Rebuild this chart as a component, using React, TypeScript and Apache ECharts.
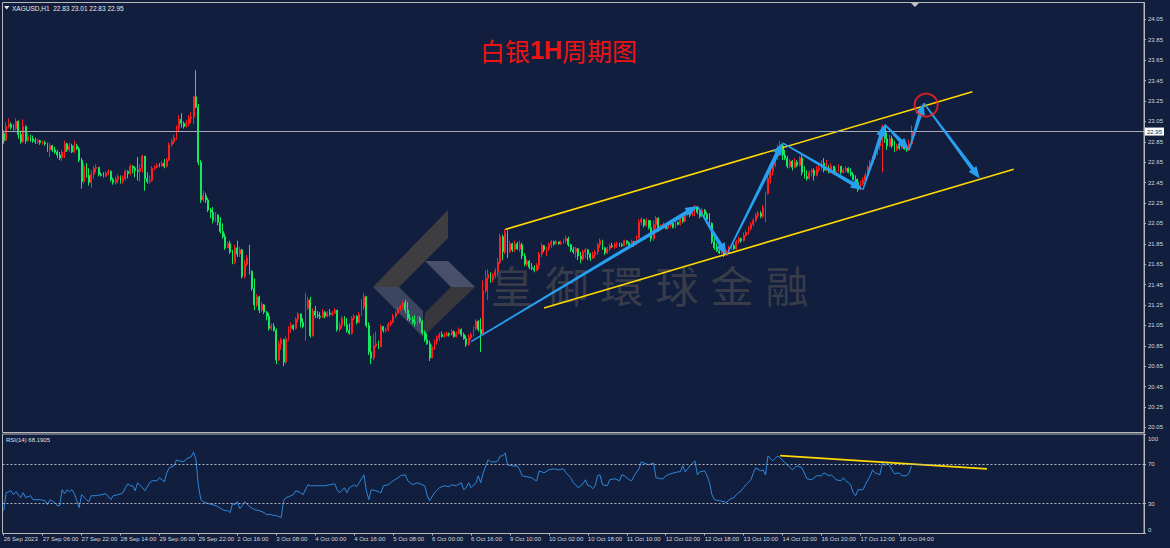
import React, { useEffect, useRef } from 'react';
import * as echarts from 'echarts';

const BG = '#111e3d';
const FONT = 'Liberation Sans';

const tickLabels = [
  '26 Sep 2023', '27 Sep 06:00', '27 Sep 22:00', '28 Sep 14:00', '29 Sep 06:00', '29 Sep 22:00',
  '2 Oct 16:00', '3 Oct 08:00', '4 Oct 00:00', '4 Oct 16:00', '5 Oct 08:00', '6 Oct 00:00',
  '6 Oct 16:00', '9 Oct 10:00', '10 Oct 02:00', '10 Oct 18:00', '11 Oct 10:00', '12 Oct 02:00',
  '12 Oct 18:00', '13 Oct 10:00', '14 Oct 02:00', '16 Oct 20:00', '17 Oct 12:00', '18 Oct 04:00',
];
const TICK_EVERY = 16;
const TOTAL_SLOTS = 469;

const priceTicks = [20.05, 20.25, 20.45, 20.65, 20.85, 21.05, 21.25, 21.45, 21.65, 21.85, 22.05,
  22.25, 22.45, 22.65, 22.85, 23.05, 23.25, 23.45, 23.65, 23.85, 24.05];
const rsiTicks = [0, 30, 70, 100];
const rsiLevels = [70, 30];
const currentPrice = 22.95;
const firstOpen = 22.93;

const closes = [
  22.86, 23.00, 23.02, 22.99, 22.98, 23.05, 22.92, 22.85, 23.00, 22.86,
  22.90, 22.88, 22.86, 22.85, 22.86, 22.84, 22.84, 22.83, 22.77, 22.81,
  22.77, 22.75, 22.72, 22.69, 22.75, 22.83, 22.77, 22.81, 22.75, 22.81,
  22.78, 22.67, 22.46, 22.61, 22.52, 22.45, 22.53, 22.59, 22.60, 22.53,
  22.52, 22.51, 22.54, 22.56, 22.48, 22.45, 22.48, 22.51, 22.46, 22.49,
  22.56, 22.54, 22.61, 22.59, 22.57, 22.56, 22.59, 22.71, 22.49, 22.46,
  22.47, 22.59, 22.60, 22.62, 22.61, 22.64, 22.61, 22.67, 22.82, 22.85,
  22.89, 22.98, 23.07, 23.03, 23.00, 23.03, 23.08, 23.09, 23.29, 23.19,
  22.65, 22.28, 22.32, 22.28, 22.18, 22.16, 22.08, 22.13, 22.06, 21.97,
  21.92, 21.81, 21.85, 21.77, 21.67, 21.81, 21.75, 21.79, 21.53, 21.65,
  21.71, 21.58, 21.41, 21.25, 21.33, 21.20, 21.25, 21.18, 21.14, 21.02,
  21.04, 21.00, 20.71, 20.87, 20.91, 20.69, 20.92, 21.02, 21.05, 21.02,
  21.11, 21.16, 21.08, 21.04, 21.22, 21.30, 20.95, 21.19, 21.15, 21.14,
  21.13, 21.18, 21.14, 21.17, 21.16, 21.17, 21.20, 21.01, 21.05, 21.12,
  21.06, 21.00, 20.97, 21.12, 21.14, 21.08, 21.16, 21.23, 21.33, 21.05,
  20.79, 20.73, 20.85, 20.87, 20.84, 21.04, 21.00, 21.01, 21.06, 21.08,
  21.14, 21.17, 21.21, 21.23, 21.27, 21.20, 21.12, 21.11, 21.08, 21.07,
  21.12, 21.09, 20.98, 20.91, 20.87, 20.73, 20.84, 20.89, 20.93, 20.96,
  20.94, 20.95, 20.97, 20.96, 20.99, 20.94, 20.97, 21.01, 20.96, 20.92,
  20.86, 20.93, 20.96, 21.02, 21.09, 21.01, 20.97, 21.39, 21.51, 21.55,
  21.50, 21.54, 21.58, 21.67, 21.92, 21.77, 21.96, 21.77, 21.85, 21.79,
  21.85, 21.80, 21.84, 21.73, 21.65, 21.68, 21.62, 21.61, 21.59, 21.64,
  21.75, 21.83, 21.79, 21.80, 21.84, 21.87, 21.85, 21.87, 21.85, 21.86,
  21.88, 21.90, 21.84, 21.79, 21.77, 21.80, 21.73, 21.70, 21.77, 21.79,
  21.75, 21.71, 21.74, 21.77, 21.84, 21.88, 21.81, 21.76, 21.80, 21.83,
  21.82, 21.84, 21.85, 21.84, 21.83, 21.88, 21.86, 21.84, 21.87, 21.84,
  21.91, 22.06, 22.09, 22.03, 22.08, 22.01, 21.90, 22.04, 22.10, 21.99,
  22.02, 22.04, 22.00, 22.03, 22.05, 22.01, 22.06, 22.04, 22.11, 22.07,
  22.14, 22.16, 22.13, 22.19, 22.21, 22.16, 22.12, 22.18, 22.14, 22.09,
  22.05, 21.87, 21.81, 21.78, 21.76, 21.80, 21.74, 21.76, 21.81, 21.83,
  21.80, 21.87, 21.90, 21.88, 21.93, 21.96, 22.00, 22.04, 22.08, 22.13,
  22.15, 22.12, 22.20, 22.34, 22.49, 22.56, 22.62, 22.71, 22.80, 22.81,
  22.72, 22.69, 22.61, 22.66, 22.60, 22.65, 22.62, 22.69, 22.55, 22.51,
  22.49, 22.55, 22.57, 22.52, 22.58, 22.59, 22.64, 22.57, 22.59, 22.55,
  22.61, 22.55, 22.56, 22.61, 22.55, 22.57, 22.59, 22.55, 22.53, 22.48,
  22.45, 22.38, 22.44, 22.47, 22.52, 22.60, 22.64, 22.69, 22.74, 22.81,
  22.91, 23.00, 22.88, 22.81, 22.88, 22.81, 22.77, 22.81, 22.79, 22.82,
  22.78, 22.77, 22.83, 22.95,
];

const highs = [
  22.96, 23.04, 23.08, 23.04, 23.02, 23.08, 23.06, 22.96, 23.07, 23.01,
  22.94, 22.92, 22.91, 22.89, 22.88, 22.87, 22.86, 22.86, 22.84, 22.84,
  22.82, 22.80, 22.77, 22.75, 22.77, 22.86, 22.84, 22.84, 22.83, 22.86,
  22.83, 22.80, 22.69, 22.64, 22.64, 22.59, 22.57, 22.61, 22.63, 22.58,
  22.55, 22.55, 22.56, 22.58, 22.57, 22.50, 22.51, 22.53, 22.52, 22.52,
  22.58, 22.57, 22.63, 22.62, 22.61, 22.70, 22.63, 22.72, 22.71, 22.55,
  22.52, 22.61, 22.62, 22.64, 22.64, 22.66, 22.68, 22.69, 22.84, 22.88,
  22.92, 23.01, 23.11, 23.13, 23.05, 23.06, 23.11, 23.14, 23.30, 23.55,
  23.22, 22.67, 22.37, 22.35, 22.30, 22.20, 22.21, 22.16, 22.14, 22.11,
  22.05, 21.95, 21.87, 21.88, 21.79, 21.84, 21.88, 21.82, 21.80, 21.69,
  21.74, 21.84, 21.59, 21.51, 21.36, 21.34, 21.28, 21.26, 21.19, 21.17,
  21.07, 21.07, 21.02, 20.90, 20.93, 20.92, 20.94, 21.04, 21.08, 21.06,
  21.13, 21.18, 21.17, 21.12, 21.37, 21.33, 21.33, 21.22, 21.24, 21.19,
  21.18, 21.21, 21.19, 21.19, 21.21, 21.19, 21.22, 21.20, 21.08, 21.14,
  21.14, 21.12, 21.07, 21.14, 21.16, 21.15, 21.18, 21.31, 21.37, 21.34,
  21.08, 20.95, 20.97, 20.99, 20.90, 21.06, 21.04, 21.03, 21.08, 21.10,
  21.16, 21.19, 21.23, 21.25, 21.29, 21.30, 21.28, 21.16, 21.14, 21.15,
  21.14, 21.14, 21.10, 21.00, 20.97, 20.90, 20.86, 20.91, 20.95, 20.98,
  20.99, 20.98, 20.99, 20.98, 21.01, 21.00, 20.99, 21.03, 21.02, 20.98,
  20.95, 20.96, 20.98, 21.04, 21.11, 21.10, 21.12, 21.49, 21.59, 21.60,
  21.57, 21.56, 21.61, 21.71, 21.95, 21.94, 21.99, 21.98, 21.88, 21.86,
  21.88, 21.87, 21.88, 21.86, 21.76, 21.70, 21.69, 21.66, 21.64, 21.66,
  21.77, 21.86, 21.84, 21.82, 21.86, 21.89, 21.88, 21.89, 21.87, 21.88,
  21.90, 21.93, 21.92, 21.85, 21.82, 21.82, 21.81, 21.77, 21.79, 21.81,
  21.80, 21.76, 21.77, 21.79, 21.86, 21.90, 21.89, 21.82, 21.82, 21.85,
  21.86, 21.86, 21.87, 21.86, 21.86, 21.89, 21.88, 21.87, 21.89, 21.88,
  21.93, 22.09, 22.11, 22.09, 22.10, 22.08, 22.08, 22.08, 22.12, 22.11,
  22.04, 22.06, 22.05, 22.05, 22.07, 22.06, 22.08, 22.07, 22.13, 22.13,
  22.16, 22.17, 22.17, 22.21, 22.23, 22.21, 22.18, 22.20, 22.19, 22.16,
  22.15, 22.06, 21.93, 21.86, 21.84, 21.82, 21.81, 21.79, 21.83, 21.85,
  21.85, 21.89, 21.92, 21.91, 21.96, 21.98, 22.02, 22.06, 22.10, 22.15,
  22.17, 22.17, 22.23, 22.36, 22.51, 22.58, 22.67, 22.73, 22.82, 22.86,
  22.83, 22.77, 22.71, 22.68, 22.67, 22.69, 22.67, 22.71, 22.72, 22.61,
  22.57, 22.57, 22.59, 22.59, 22.61, 22.62, 22.67, 22.69, 22.67, 22.62,
  22.64, 22.61, 22.59, 22.63, 22.60, 22.59, 22.61, 22.60, 22.59, 22.55,
  22.52, 22.49, 22.47, 22.50, 22.55, 22.62, 22.67, 22.71, 22.76, 22.83,
  22.93, 23.02, 23.01, 22.94, 22.92, 22.91, 22.86, 22.83, 22.83, 22.84,
  22.82, 22.80, 22.87, 23.01,
];

const lows = [
  22.83, 22.86, 22.98, 22.97, 22.96, 22.96, 22.88, 22.83, 22.84, 22.83,
  22.85, 22.85, 22.84, 22.83, 22.83, 22.82, 22.82, 22.81, 22.75, 22.70,
  22.75, 22.73, 22.69, 22.67, 22.66, 22.69, 22.75, 22.75, 22.74, 22.74,
  22.77, 22.65, 22.39, 22.44, 22.50, 22.42, 22.40, 22.49, 22.55, 22.51,
  22.51, 22.50, 22.51, 22.52, 22.46, 22.43, 22.43, 22.44, 22.44, 22.44,
  22.47, 22.49, 22.52, 22.54, 22.50, 22.47, 22.46, 22.55, 22.37, 22.44,
  22.44, 22.46, 22.57, 22.59, 22.60, 22.61, 22.59, 22.60, 22.66, 22.80,
  22.83, 22.87, 22.95, 22.99, 22.98, 22.99, 23.00, 23.03, 23.02, 23.18,
  22.62, 22.25, 22.26, 22.25, 22.16, 22.10, 22.05, 22.06, 22.03, 21.95,
  21.90, 21.79, 21.82, 21.75, 21.65, 21.65, 21.72, 21.72, 21.51, 21.51,
  21.63, 21.55, 21.39, 21.20, 21.23, 21.17, 21.18, 21.16, 21.10, 21.00,
  21.00, 20.99, 20.67, 20.70, 20.81, 20.65, 20.67, 20.90, 20.98, 21.00,
  21.01, 21.08, 21.03, 21.02, 20.90, 21.20, 20.93, 20.94, 21.12, 21.12,
  21.11, 21.12, 21.12, 21.13, 21.14, 21.14, 21.16, 20.99, 20.99, 21.02,
  21.04, 20.98, 20.96, 20.96, 21.10, 21.06, 21.07, 21.14, 21.20, 21.03,
  20.76, 20.67, 20.71, 20.83, 20.82, 20.84, 20.98, 20.98, 20.99, 21.04,
  21.07, 21.12, 21.16, 21.19, 21.21, 21.17, 21.10, 21.09, 21.06, 21.04,
  21.05, 21.07, 20.96, 20.89, 20.86, 20.70, 20.73, 20.81, 20.86, 20.90,
  20.93, 20.93, 20.94, 20.94, 20.95, 20.93, 20.93, 20.96, 20.94, 20.91,
  20.84, 20.85, 20.91, 20.94, 21.00, 20.99, 20.79, 20.96, 21.37, 21.30,
  21.47, 21.47, 21.51, 21.53, 21.65, 21.69, 21.75, 21.71, 21.76, 21.77,
  21.77, 21.79, 21.77, 21.70, 21.63, 21.63, 21.60, 21.59, 21.57, 21.58,
  21.60, 21.72, 21.77, 21.73, 21.78, 21.81, 21.83, 21.84, 21.84, 21.84,
  21.85, 21.86, 21.82, 21.77, 21.75, 21.71, 21.69, 21.66, 21.68, 21.71,
  21.69, 21.68, 21.70, 21.71, 21.74, 21.81, 21.79, 21.74, 21.75, 21.78,
  21.81, 21.80, 21.81, 21.82, 21.82, 21.83, 21.84, 21.82, 21.83, 21.82,
  21.84, 21.90, 22.03, 22.01, 22.02, 21.99, 21.87, 21.88, 22.00, 21.97,
  21.98, 22.00, 21.99, 21.99, 22.01, 22.00, 22.00, 22.03, 22.03, 22.05,
  22.06, 22.12, 22.11, 22.12, 22.12, 22.14, 22.10, 22.11, 22.12, 22.07,
  22.03, 21.85, 21.79, 21.77, 21.75, 21.75, 21.72, 21.73, 21.75, 21.79,
  21.79, 21.79, 21.85, 21.86, 21.87, 21.92, 21.94, 21.98, 22.02, 22.06,
  22.10, 22.10, 22.10, 22.06, 22.33, 22.44, 22.52, 22.60, 22.67, 22.71,
  22.67, 22.67, 22.59, 22.59, 22.57, 22.59, 22.60, 22.61, 22.52, 22.49,
  22.47, 22.48, 22.51, 22.47, 22.51, 22.55, 22.57, 22.55, 22.56, 22.54,
  22.54, 22.53, 22.54, 22.55, 22.53, 22.54, 22.55, 22.54, 22.51, 22.47,
  22.43, 22.36, 22.39, 22.42, 22.46, 22.52, 22.57, 22.62, 22.67, 22.72,
  22.77, 22.55, 22.84, 22.77, 22.80, 22.79, 22.75, 22.76, 22.77, 22.78,
  22.77, 22.75, 22.76, 22.83,
];

// RSI(14): [bar index, value]
const rsiPoints = [
  [0, 23], [1, 41], [3, 43], [4, 39], [5, 42], [7, 36], [8, 41], [9, 36], [11, 38], [12, 34],
  [15, 34], [17, 33], [18, 29], [19, 34], [21, 31], [22, 28], [23, 28], [24, 44], [25, 40], [26, 44],
  [27, 42], [28, 44], [29, 40], [30, 33], [31, 26], [32, 39], [34, 34], [35, 32], [36, 38], [38, 38],
  [40, 39], [42, 40], [44, 34], [45, 38], [47, 39], [49, 41], [50, 46], [51, 50], [52, 48], [53, 48],
  [54, 43], [55, 51], [57, 46], [58, 43], [60, 51], [61, 53], [63, 53], [64, 56], [66, 52], [67, 61],
  [68, 66], [70, 68], [71, 74], [72, 73], [74, 72], [75, 75], [77, 77], [78, 82], [79, 74], [80, 48],
  [81, 34], [82, 32], [84, 30], [86, 29], [88, 27], [90, 24], [91, 23], [92, 23], [93, 21], [94, 30],
  [95, 29], [96, 32], [97, 25], [98, 28], [99, 32], [101, 27], [103, 24], [105, 23], [107, 21], [108, 19],
  [110, 19], [111, 18], [112, 18], [114, 16], [115, 33], [116, 36], [118, 38], [119, 39], [120, 43], [122, 41],
  [123, 39], [125, 49], [126, 48], [128, 48], [130, 48], [132, 48], [134, 49], [136, 50], [137, 44], [138, 41],
  [140, 46], [141, 41], [142, 46], [144, 49], [145, 47], [146, 51], [148, 59], [149, 43], [150, 34], [151, 44],
  [153, 43], [155, 41], [156, 48], [158, 49], [160, 53], [162, 56], [163, 58], [165, 59], [166, 53], [168, 49],
  [170, 51], [173, 48], [174, 38], [175, 33], [177, 41], [179, 46], [181, 48], [183, 47], [184, 49], [186, 48],
  [188, 51], [189, 44], [190, 46], [191, 51], [192, 46], [194, 51], [195, 58], [196, 51], [197, 61], [199, 74],
  [200, 72], [202, 72], [203, 73], [204, 78], [205, 78], [206, 81], [207, 69], [209, 68], [211, 68], [212, 64],
  [213, 58], [215, 57], [217, 56], [218, 54], [219, 53], [220, 63], [222, 61], [224, 64], [226, 65], [228, 64],
  [230, 65], [231, 61], [233, 56], [234, 51], [235, 49], [236, 46], [238, 50], [239, 54], [240, 48], [241, 48],
  [242, 45], [243, 48], [244, 58], [245, 59], [246, 49], [248, 48], [249, 54], [251, 55], [253, 53], [254, 59],
  [255, 58], [257, 54], [258, 53], [259, 58], [261, 65], [262, 72], [264, 70], [265, 69], [266, 70], [267, 71],
  [268, 56], [270, 55], [271, 55], [272, 58], [274, 60], [277, 62], [278, 62], [279, 68], [280, 62], [282, 68],
  [284, 73], [285, 59], [286, 62], [288, 63], [289, 58], [290, 51], [291, 39], [292, 34], [294, 33], [296, 32],
  [297, 31], [298, 34], [300, 36], [301, 39], [303, 43], [304, 46], [305, 49], [307, 54], [308, 61], [309, 66],
  [311, 63], [312, 64], [313, 59], [314, 78], [316, 73], [318, 78], [319, 76], [321, 71], [322, 69], [324, 64],
  [326, 68], [328, 66], [330, 55], [332, 54], [334, 58], [336, 58], [337, 61], [339, 58], [340, 59], [342, 54],
  [344, 53], [345, 56], [346, 53], [348, 49], [349, 41], [350, 38], [351, 44], [353, 44], [354, 49], [356, 58],
  [357, 64], [358, 61], [360, 59], [361, 71], [362, 68], [363, 71], [364, 68], [366, 60], [368, 61], [369, 58],
  [371, 58], [372, 61], [373, 68],
];

// drawn objects: [bar index, price]
const channelUpper = [[206, 21.99], [398, 23.34]];
const channelLower = [[222, 21.22], [415, 22.58]];
const arrowPath = [[192, 20.89], [285, 22.22], [297, 21.74], [320, 22.84], [353, 22.38],
  [362, 23.02], [372, 22.77], [378, 23.23], [401, 22.49]];
const circleMark = [379, 23.21];
const rsiTrend = [[319, 78.3], [404, 65]];

const headerText = 'XAGUSD,H1  22.83 23.01 22.83 22.95';
const rsiText = 'RSI(14) 68.1905';
const watermarkChars = ['皇', '御', '環', '球', '金', '融'];

export default function App() {
  const ref = useRef<HTMLDivElement>(null);

  useEffect(() => {
    const el = ref.current;
    if (!el) return;
    const chart = echarts.init(el, undefined, { renderer: 'svg', width: 1170, height: 548 });

    const categories = Array.from({ length: TOTAL_SLOTS }, (_, i) => String(i));
    const candles = closes.map((c, i) => {
      const o = i === 0 ? firstOpen : closes[i - 1];
      return [o, c, Math.min(lows[i], o, c), Math.max(highs[i], o, c)];
    });
    const segments = arrowPath.slice(1).map((p, i) => [arrowPath[i][0], arrowPath[i][1], p[0], p[1]]);
    const lastLabelIdx = (tickLabels.length - 1) * TICK_EVERY;
    const showTick = (idx: number) => idx % TICK_EVERY === 0 && idx <= lastLabelIdx;

    const labelColor = '#d8d8d8';
    const frame = '#b8b8b8';

    const graphics: any[] = [];
    const logoPolys = [
      { pts: [[373, 287], [448, 210], [448, 238], [399, 287]], fill: '#3e3e41' },
      { pts: [[425, 261], [448, 261], [475, 287], [451, 287]], fill: '#48506a' },
      { pts: [[373, 287], [399, 287], [423, 311], [423, 337]], fill: '#3d4660' },
      { pts: [[475, 287], [451, 287], [425, 313], [423, 337]], fill: '#38383c' },
    ];
    logoPolys.forEach((p) => {
      graphics.push({ type: 'polygon', z: 0, silent: true, shape: { points: p.pts }, style: { fill: p.fill } });
    });
    watermarkChars.forEach((ch, i) => {
      graphics.push({
        type: 'text', z: 0, silent: true, x: 512 + i * 55, y: 284,
        style: { text: ch, fill: '#383b49', font: '43px "Noto Sans CJK TC"', textAlign: 'center', textVerticalAlign: 'middle' },
      });
    });
    graphics.push({
      type: 'text', z: 20, x: 480, y: 50,
      style: {
        text: '{a|白银}{b|1H}{a|周期图}',
        textVerticalAlign: 'middle',
        rich: {
          a: { fontSize: 25, fontFamily: 'Noto Sans CJK SC', fill: '#ee1414', color: '#ee1414' },
          b: { fontSize: 25, fontFamily: 'Liberation Sans', fontWeight: 'bold', fill: '#ee1414', color: '#ee1414' },
        },
      },
    });
    graphics.push({ type: 'polygon', z: 20, shape: { points: [[4, 6], [9.5, 6], [6.75, 9.5]] }, style: { fill: '#e8e8e8' } });
    graphics.push({
      type: 'text', z: 20, x: 12, y: 8,
      style: { text: headerText, fill: '#e8e8e8', font: `6.5px "${FONT}"`, textVerticalAlign: 'middle' },
    });
    graphics.push({ type: 'polygon', z: 20, shape: { points: [[911, 3], [919, 3], [915, 7]] }, style: { fill: '#c8c8c8' } });
    graphics.push({
      type: 'text', z: 20, x: 6, y: 440,
      style: { text: rsiText, fill: '#e0e0e0', font: `6px "${FONT}"`, textVerticalAlign: 'middle' },
    });

    const option: any = {
      animation: false,
      backgroundColor: BG,
      grid: [
        { left: 2.5, top: 2.5, width: 1141.5, height: 430, show: true, borderColor: frame, borderWidth: 1, backgroundColor: 'transparent' },
        { left: 2.5, top: 434, width: 1141.5, height: 99.5, show: true, borderColor: frame, borderWidth: 1, backgroundColor: 'transparent' },
      ],
      xAxis: [
        {
          type: 'category', gridIndex: 0, data: categories, boundaryGap: true,
          axisLine: { show: false }, axisTick: { show: false }, axisLabel: { show: false }, splitLine: { show: false },
        },
        {
          type: 'category', gridIndex: 1, data: categories, boundaryGap: true,
          axisLine: { show: false },
          axisTick: { show: true, interval: (idx: number) => showTick(idx), alignWithLabel: true, length: 2, lineStyle: { color: frame } },
          axisLabel: {
            show: true, interval: (idx: number) => showTick(idx), align: 'left', margin: 2,
            color: labelColor, fontSize: 6, fontFamily: FONT,
            formatter: (_v: string, idx: number) => tickLabels[idx / TICK_EVERY] ?? '',
          },
          splitLine: { show: false },
        },
      ],
      yAxis: [
        {
          type: 'value', gridIndex: 0, position: 'right', min: 20.0, max: 24.215,
          splitLine: { show: false },
          axisLine: { show: true, lineStyle: { color: frame } },
          axisTick: { show: true, length: 2, customValues: priceTicks, lineStyle: { color: frame } },
          axisLabel: {
            customValues: priceTicks, margin: 4, color: labelColor, fontSize: 6, fontFamily: FONT,
            formatter: (v: number) => v.toFixed(2),
          },
        },
        {
          type: 'value', gridIndex: 1, position: 'right', min: 0, max: 100,
          splitLine: { show: false },
          axisLine: { show: true, lineStyle: { color: frame } },
          axisTick: { show: true, length: 2, customValues: rsiTicks, lineStyle: { color: frame } },
          axisLabel: {
            customValues: rsiTicks, margin: 4, color: labelColor, fontSize: 6, fontFamily: FONT,
            formatter: (v: number) => (v === 100 ? '{t|100}' : v === 0 ? '{b|0}' : String(v)),
            rich: {
              t: { padding: [9, 0, 0, 0], fontSize: 6, fontFamily: FONT, color: labelColor },
              b: { padding: [0, 0, 8, 0], fontSize: 6, fontFamily: FONT, color: labelColor },
            },
          },
        },
      ],
      graphic: { elements: graphics },
      series: [
        {
          type: 'candlestick', xAxisIndex: 0, yAxisIndex: 0, data: candles, barWidth: 1.4, z: 3,
          itemStyle: { color: '#ff1e1e', color0: '#14ea5e', borderColor: '#ff1e1e', borderColor0: '#14ea5e', borderWidth: 1 },
          markLine: {
            silent: true, symbol: ['none', 'none'],
            lineStyle: { color: '#a8a8b0', width: 1, type: 'solid' },
            label: {
              show: true, position: 'end', distance: 1, formatter: currentPrice.toFixed(2),
              backgroundColor: '#ffffff', color: BG, fontSize: 6, fontFamily: FONT, padding: [1, 2],
            },
            data: [{ yAxis: currentPrice }],
          },
        },
        {
          type: 'line', xAxisIndex: 0, yAxisIndex: 0, data: channelUpper, symbol: 'none', z: 4,
          lineStyle: { color: '#ffd900', width: 1.6 },
        },
        {
          type: 'line', xAxisIndex: 0, yAxisIndex: 0, data: channelLower, symbol: 'none', z: 4,
          lineStyle: { color: '#ffd900', width: 1.6 },
        },
        {
          type: 'custom', xAxisIndex: 0, yAxisIndex: 0, data: segments, z: 5,
          encode: { x: [0, 2], y: [1, 3] },
          renderItem: (_params: any, api: any) => {
            const a = api.coord([api.value(0), api.value(1)]);
            const b = api.coord([api.value(2), api.value(3)]);
            const dx = b[0] - a[0];
            const dy = b[1] - a[1];
            const len = Math.sqrt(dx * dx + dy * dy) || 1;
            const ux = dx / len, uy = dy / len;
            const nx = -uy, ny = ux;
            const headLen = Math.min(12, len * 0.4);
            const bx = b[0] - ux * headLen, by = b[1] - uy * headLen;
            const w0 = 0.7, w1 = 2.0, wh = 4.8;
            return {
              type: 'polygon',
              shape: {
                points: [
                  [a[0] + nx * w0, a[1] + ny * w0],
                  [bx + nx * w1, by + ny * w1],
                  [bx + nx * wh, by + ny * wh],
                  [b[0], b[1]],
                  [bx - nx * wh, by - ny * wh],
                  [bx - nx * w1, by - ny * w1],
                  [a[0] - nx * w0, a[1] - ny * w0],
                ],
              },
              style: { fill: '#27a0f2' },
            };
          },
        },
        {
          type: 'scatter', xAxisIndex: 0, yAxisIndex: 0, data: [circleMark], symbol: 'circle', symbolSize: 23, z: 6,
          itemStyle: { color: 'rgba(0,0,0,0)', borderColor: '#ff2222', borderWidth: 2 },
        },
        {
          type: 'line', xAxisIndex: 1, yAxisIndex: 1, data: rsiPoints, symbol: 'none', z: 3,
          lineStyle: { color: '#2c88dc', width: 1 },
          markLine: {
            silent: true, symbol: ['none', 'none'], label: { show: false },
            lineStyle: { color: '#b8b8c0', width: 1, type: [2, 2] },
            data: rsiLevels.map((v) => ({ yAxis: v })),
          },
        },
        {
          type: 'line', xAxisIndex: 1, yAxisIndex: 1, data: rsiTrend, symbol: 'none', z: 4,
          lineStyle: { color: '#ffd900', width: 1.8 },
        },
      ],
    };

    chart.setOption(option);
    return () => chart.dispose();
  }, []);

  return (
    <div
      ref={ref}
      style={{ position: 'fixed', left: 0, top: 0, width: 1170, height: 548, background: BG }}
    />
  );
}
